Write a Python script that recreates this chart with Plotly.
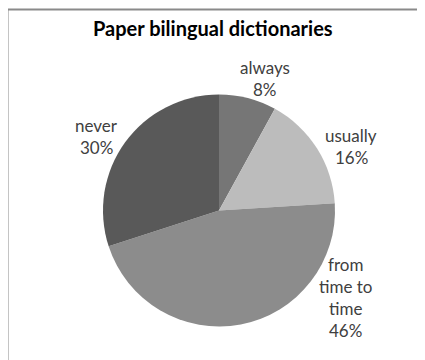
import plotly.graph_objects as go

title = "Paper bilingual dictionaries"
categories = ["always", "usually", "from time to time", "never"]
values = [8, 16, 46, 30]
label_lines = [["always"], ["usually"], ["from", "time to", "time"], ["never"]]
colors = ["#767676", "#bcbcbc", "#8c8c8c", "#595959"]

W, H = 425, 360
OFF = 8  # page body margin
FW, FH = W - OFF, H - OFF

def px(x):
    return (x - OFF) / FW

def py(y):
    return 1 - (y - OFF) / FH

fig = go.Figure()
fig.add_trace(go.Pie(
    labels=categories,
    values=values,
    sort=False,
    direction="clockwise",
    rotation=0,
    textinfo="none",
    hoverinfo="label+percent",
    marker=dict(colors=colors, line=dict(width=0)),
    domain=dict(x=[px(103), px(335)], y=[py(327), py(94)]),
    showlegend=False,
))

# label block centers (pixel positions in the frame)
label_pos = [(265, 78), (351, 146), (345, 297), (96, 136)]
line_step = 22
total = sum(values)
annotations = []
for lines, v, (cx, cy) in zip(label_lines, values, label_pos):
    all_lines = lines + [f"{round(100 * v / total)}%"]
    n = len(all_lines)
    for i, t in enumerate(all_lines):
        y = cy + (i - (n - 1) / 2) * line_step
        annotations.append(dict(
            x=px(cx), y=py(y), xref="paper", yref="paper",
            text=t, showarrow=False, xanchor="center", yanchor="middle",
            font=dict(family="Lato", size=17, color="#404040"),
        ))

annotations.append(dict(
    x=px(213), y=py(28), xref="paper", yref="paper",
    text=f"<b>{title}</b>", showarrow=False, xanchor="center", yanchor="middle",
    font=dict(family="Lato", size=20, color="#000000"),
))

fig.update_layout(
    width=FW, height=FH,
    margin=dict(l=0, r=0, t=0, b=0),
    paper_bgcolor="white",
    plot_bgcolor="white",
    annotations=annotations,
    shapes=[dict(
        type="path", xref="paper", yref="paper",
        path=f"M {px(7.5)} -0.1 L {px(7.5)} {py(9.5)} L 1.1 {py(9.5)}",
        line=dict(color="#8a8a8a", width=2),
    )],
)

fig.write_html("out.html")
